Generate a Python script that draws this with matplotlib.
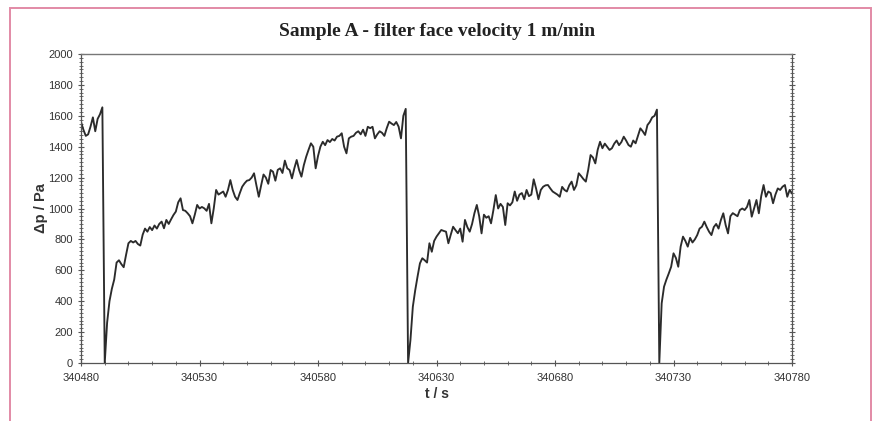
import numpy as np
import matplotlib as mpl
import matplotlib.pyplot as plt
from matplotlib.patches import Rectangle
from matplotlib.ticker import MultipleLocator, FixedLocator

# ── Data: pressure drop (Pa) sampled every 1 s from T0 ─────────────────────
T0 = 340480
X_TICKS = [340480, 340530, 340580, 340630, 340680, 340730, 340780]
# tail of the previous filtration cycle (t = 0..9 s)
DP_PREV = [1560, 1510, 1470, 1480, 1530, 1590, 1500, 1580, 1610, 1655]
# cycle 1 (t = 10..137 s), starts right after cleaning pulse
DP_CYCLE1 = [
    0, 260, 400, 480, 540, 650, 665, 640, 620, 700,
    775, 790, 780, 790, 770, 760, 830, 870, 850, 880,
    860, 890, 870, 900, 915, 872, 926, 900, 930, 958,
    980, 1040, 1066, 990, 985, 969, 950, 904, 960, 1023,
    1000, 1010, 1001, 985, 1030, 904, 1000, 1120, 1090, 1100,
    1110, 1076, 1120, 1184, 1120, 1076, 1055, 1100, 1141, 1163,
    1180, 1184, 1200, 1228, 1150, 1076, 1150, 1220, 1200, 1160,
    1249, 1238, 1180, 1250, 1260, 1230, 1310, 1260, 1249, 1195,
    1260, 1314, 1250, 1206, 1280, 1335, 1380, 1422, 1400, 1260,
    1340, 1400, 1432, 1410, 1443, 1430, 1450, 1440, 1465, 1470,
    1487, 1400, 1357, 1454, 1465, 1470, 1490, 1500, 1480, 1510,
    1470, 1529, 1520, 1529, 1454, 1480, 1500, 1490, 1470, 1520,
    1562, 1550, 1540, 1560, 1530, 1454, 1600, 1645,
]
# cycle 2 (t = 138..243 s)
DP_CYCLE2 = [
    0, 150, 364, 470, 560, 645, 678, 665, 650, 775, 720, 790,
    818, 840, 861, 855, 850, 775, 830, 882, 860, 840,
    870, 785, 926, 880, 850, 900, 970, 1023, 950, 839,
    960, 940, 950, 904, 990, 1087, 1000, 1030, 1010, 893,
    1034, 1020, 1040, 1110, 1050, 1090, 1100, 1060, 1120, 1080,
    1090, 1189, 1130, 1060, 1120, 1141, 1150, 1152, 1130, 1110,
    1100, 1090, 1076, 1140, 1120, 1110, 1150, 1174, 1120, 1150,
    1228, 1210, 1190, 1174, 1250, 1346, 1330, 1292, 1380, 1432,
    1390, 1420, 1400, 1379, 1390, 1420, 1440, 1410, 1430, 1465,
    1440, 1411, 1400, 1440, 1422, 1470, 1519, 1500, 1476, 1540,
    1560, 1590, 1600, 1640,
]
# cycle 3 (t = 244..300 s)
DP_CYCLE3 = [
    0, 386, 494, 540, 580, 623,
    710, 680, 623, 753, 818, 790, 753, 810, 780, 800,
    828, 870, 882, 915, 880, 850, 828, 880, 900, 870,
    926, 969, 893, 839, 950, 970, 960, 950, 990, 1000,
    990, 1010, 1055, 947, 1000, 1055, 969, 1080, 1152, 1076,
    1110, 1100, 1034, 1090, 1130, 1120, 1141, 1152, 1076, 1120,
    1098,
]

TITLE = "Sample A - filter face velocity 1 m/min"
XLABEL = "t / s"
YLABEL = "\u0394p / Pa"

LINE_C = "#2b2b2b"
AXIS_C = "#555555"
TEXT_C = "#333333"
BORDER_C = "#e28aa6"

mpl.rcParams.update({
    "font.family": ["Liberation Sans", "DejaVu Sans"],
    "axes.linewidth": 0.9,
})


def main():
    dp = np.array(DP_PREV + DP_CYCLE1 + DP_CYCLE2 + DP_CYCLE3, float)
    t = T0 + np.arange(dp.size)

    fig = plt.figure(figsize=(8.77, 4.21), dpi=100)
    ax = fig.add_axes([0.0924, 0.1378, 0.8107, 0.7339])

    ax.plot(t, dp, color=LINE_C, lw=1.35, solid_joinstyle="round")

    ax.set_xlim(X_TICKS[0], X_TICKS[-1])
    ax.set_ylim(0, 2000)
    ax.xaxis.set_major_locator(FixedLocator(X_TICKS))
    ax.xaxis.set_minor_locator(MultipleLocator(10))
    ax.yaxis.set_major_locator(MultipleLocator(200))
    ax.yaxis.set_minor_locator(MultipleLocator(25))
    ax.ticklabel_format(useOffset=False, style="plain")

    for side in ("left", "bottom", "right"):
        ax.spines[side].set_color(AXIS_C)
    ax.spines["top"].set_color("#777777")
    ax.spines["top"].set_linewidth(1.0)

    ax.tick_params(which="both", direction="inout", color=AXIS_C,
                   labelcolor=TEXT_C, labelsize=8, right=True)
    ax.tick_params(which="major", length=4, width=0.8)
    ax.tick_params(which="minor", length=2.5, width=0.6)
    ax.tick_params(axis="x", pad=5)
    ax.tick_params(axis="y", pad=4)

    ax.set_xlabel(XLABEL, fontsize=10, fontweight="bold", color=TEXT_C,
                  labelpad=3)
    ax.set_ylabel(YLABEL, fontsize=10.5, fontweight="bold", color=TEXT_C,
                  labelpad=0)

    fig.text(0.498, 0.924, TITLE, ha="center", va="center",
             fontsize=14, fontweight="bold", color="#222222",
             family=["Liberation Serif", "DejaVu Serif"])

    # pink frame around the chart area (bottom edge outside the picture)
    fig.patches.append(Rectangle((10 / 877, -0.05), 861 / 877, 1.05 - 8 / 421,
                                 transform=fig.transFigure, fill=False,
                                 edgecolor=BORDER_C, lw=1.4))

    fig.savefig("out.png", dpi=100)


if __name__ == "__main__":
    main()
